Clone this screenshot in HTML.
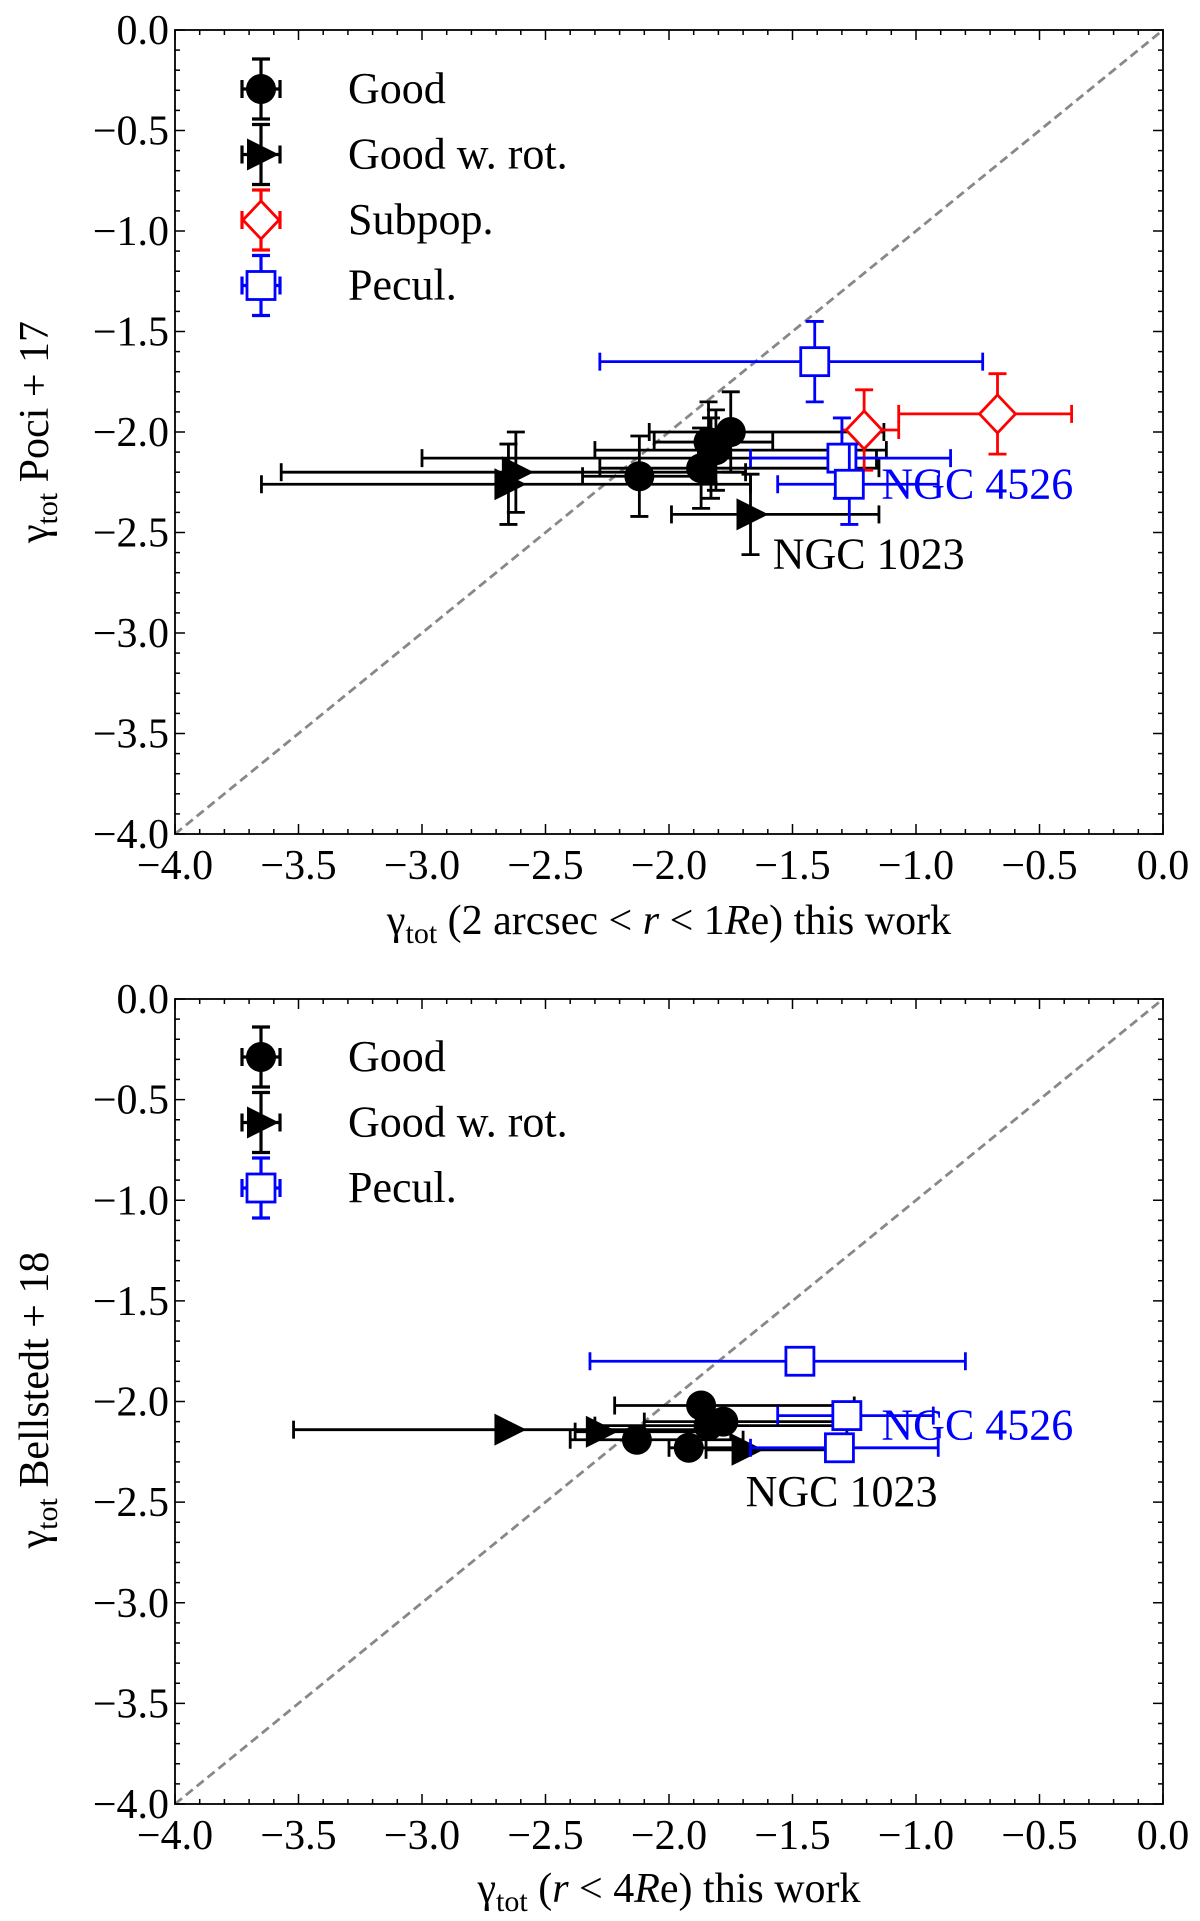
<!DOCTYPE html>
<html><head><meta charset="utf-8"><style>
body{margin:0;background:#fff}
svg{display:block;font-family:"Liberation Serif",serif}
</style></head><body>
<svg id="fig" width="1200" height="1921" viewBox="0 0 1200 1921" xmlns="http://www.w3.org/2000/svg"></svg>
<script>
// Panel 1 data: Poci+17 vs this work
const p1GoodX=[-2.12,-1.75,-1.87,-1.81,-1.84];
const p1GoodY=[-2.22,-2.00,-2.18,-2.09,-2.05];
const p1GoodXlo=[-2.35,-2.08,-2.28,-2.30,-2.06];
const p1GoodXhi=[-1.82,-1.13,-1.15,-1.12,-1.58];
const p1RotX=[-2.62,-2.65,-1.67,-1.83];
const p1RotY=[-2.20,-2.26,-2.41,-2.13];
const p1RotXlo=[-3.57,-3.65,-1.99,-3.00];
const p1RotXhi=[-1.69,-1.67,-1.15,-1.16];
const p1SubX=[-1.21,-0.67];
const p1SubY=[-1.99,-1.91];
const p1SubXlo=[-1.30,-1.07];
const p1SubXhi=[-1.07,-0.37];
const p1PecX=[-1.41,-1.30,-1.27];
const p1PecY=[-1.65,-2.13,-2.26];
const p1PecXlo=[-2.28,-1.67,-1.56];
const p1PecXhi=[-0.73,-0.86,-0.91];
// Panel 2 data: Bellstedt+18 vs this work
const p2GoodX=[-1.87,-1.92,-2.13,-1.78,-1.84];
const p2GoodY=[-2.02,-2.23,-2.19,-2.10,-2.12];
const p2GoodXlo=[-2.22,-2.00,-2.40,-2.10,-2.30];
const p2GoodXhi=[-1.25,-1.70,-1.70,-1.26,-1.28];
const p2RotX=[-2.65,-2.28,-1.69];
const p2RotY=[-2.14,-2.15,-2.24];
const p2RotXlo=[-3.52,-2.38,-1.85];
const p2RotXhi=[-1.75,-1.85,-1.30];
const p2PecX=[-1.47,-1.28,-1.31];
const p2PecY=[-1.80,-2.07,-2.23];
const p2PecXlo=[-2.32,-1.56,-1.67];
const p2PecXhi=[-0.80,-0.93,-0.91];
const tickVals=[-4.0,-3.5,-3.0,-2.5,-2.0,-1.5,-1.0,-0.5,0.0];
const tickLabels=["\u22124.0","\u22123.5","\u22123.0","\u22122.5","\u22122.0","\u22121.5","\u22121.0","\u22120.5","0.0"];

const NS="http://www.w3.org/2000/svg";
const svg=document.getElementById('fig');
function mk(tag,attrs,parent){const e=document.createElementNS(NS,tag);for(const k in attrs)e.setAttribute(k,attrs[k]);(parent||svg).appendChild(e);return e;}

function panel(top,bottom,name){
  const X0=175,X1=1163;
  const sx=v=>X0+(v+4)/4*(X1-X0);
  const sy=v=>top+(-v)/4*(bottom-top);
  const g=mk('g',{});
  
  
  const d=mk('line',{x1:sx(-4),y1:sy(-4),x2:sx(0),y2:sy(0),stroke:'#888',"stroke-width":2.8,"stroke-dasharray":"9,5"},g);
  
  
  const f=mk('rect',{x:X0,y:top,width:X1-X0,height:bottom-top,fill:'none',stroke:'#000',"stroke-width":1.8},g);
  
  
  for(let i=0;i<=40;i++){
    const v=-4+i*0.1;const maj=i%5===0;const L=maj?10:5;
    mk('line',{x1:sx(v),y1:bottom,x2:sx(v),y2:bottom-L,stroke:'#000',"stroke-width":1.5},g);
    mk('line',{x1:sx(v),y1:top,x2:sx(v),y2:top+L,stroke:'#000',"stroke-width":1.5},g);
    mk('line',{x1:X0,y1:sy(v),x2:X0+L,y2:sy(v),stroke:'#000',"stroke-width":1.5},g);
    mk('line',{x1:X1,y1:sy(v),x2:X1-L,y2:sy(v),stroke:'#000',"stroke-width":1.5},g);
  }
  tickVals.forEach((v,i)=>{
    const t=mk('text',{x:sx(v),y:bottom+45,"text-anchor":"middle","font-size":42},g);
    t.textContent=tickLabels[i];
    
    
    const u=mk('text',{x:X0-6,y:sy(v)+14,"text-anchor":"end","font-size":42},g);
    u.textContent=tickLabels[i];
    
    
  });
  return {g,sx,sy};
}

function errbar(g,x,y,xlo,xhi,ylo,yhi,col,w){
  w=w||2.8;
  mk('line',{x1:x,y1:y,x2:xlo,y2:y,stroke:col,"stroke-width":w},g);
  mk('line',{x1:x,y1:y,x2:xhi,y2:y,stroke:col,"stroke-width":w},g);
  mk('line',{x1:xlo,y1:y-9,x2:xlo,y2:y+9,stroke:col,"stroke-width":w},g);
  mk('line',{x1:xhi,y1:y-9,x2:xhi,y2:y+9,stroke:col,"stroke-width":w},g);
  if(ylo!==null){
    mk('line',{x1:x,y1:ylo,x2:x,y2:yhi,stroke:col,"stroke-width":w},g);
    mk('line',{x1:x-9,y1:ylo,x2:x+9,y2:ylo,stroke:col,"stroke-width":w},g);
    mk('line',{x1:x-9,y1:yhi,x2:x+9,y2:yhi,stroke:col,"stroke-width":w},g);
  }
}
function marker(g,type,x,y){
  let e;
  if(type==='circle')e=mk('circle',{cx:x,cy:y,r:15,fill:'#000'},g);
  else if(type==='tri')e=mk('polygon',{points:`${x-14},${y-16} ${x+18},${y} ${x-14},${y+16}`,fill:'#000'},g);
  else if(type==='diamond')e=mk('polygon',{points:`${x},${y-19} ${x+18},${y} ${x},${y+19} ${x-18},${y}`,fill:'#fff',stroke:'red',"stroke-width":2.8},g);
  else e=mk('rect',{x:x-14,y:y-14,width:28,height:28,fill:'#fff',stroke:'blue',"stroke-width":2.8},g);
  return e;
}
function series(P,type,col,X,Y,Xlo,Xhi,yerr,name){
  X.forEach((v,i)=>{
    const px=P.sx(v),py=P.sy(Y[i]);
    errbar(P.g,px,py,P.sx(Xlo[i]),P.sx(Xhi[i]),yerr?P.sy(Y[i]+yerr):null,yerr?P.sy(Y[i]-yerr):null,col);
    const m=marker(P.g,type,px,py);
    
    
  });
}
function legend(g,items,y0){
  items.forEach((it,i)=>{
    const y=y0+i*65.5;
    errbar(g,261,y,242,280,y-30,y+30,it[2],3.2);
    marker(g,it[0],261,y);
    const t=mk('text',{x:348,y:y+14,"font-size":44,fill:'#000'},g);
    t.textContent=it[1];
    
    
  });
}
function gammaText(x,y,rot,parts,name){
  const t=mk('text',{x:x,y:y,"font-size":42,"text-anchor":"middle",transform:rot?`rotate(-90 ${x} ${y})`:''});
  
  
  const a=mk('tspan',{},t);a.textContent='γ';
  const b=mk('tspan',{"font-size":30,dy:9},t);b.textContent='tot';
  let first=true;
  parts.forEach(p=>{
    const at={};
    if(first){at.dy=-9;first=false;}
    if(p[1])at['font-style']='italic';
    const c=mk('tspan',at,t);c.textContent=p[0];
  });
}

const P1=panel(30,834,'top-panel');
series(P1,'circle','#000',p1GoodX,p1GoodY,p1GoodXlo,p1GoodXhi,0.2,'good-point');
series(P1,'tri','#000',p1RotX,p1RotY,p1RotXlo,p1RotXhi,0.2,'good-rot-point');
series(P1,'diamond','red',p1SubX,p1SubY,p1SubXlo,p1SubXhi,0.2,'subpop-point');
series(P1,'square','blue',p1PecX,p1PecY,p1PecXlo,p1PecXhi,0.2,'pecul-point');
let l=mk('text',{x:P1.sx(-1.14),y:P1.sy(-2.33),"font-size":44,fill:'blue'},P1.g);l.textContent='NGC 4526';


l=mk('text',{x:P1.sx(-1.58),y:P1.sy(-2.68),"font-size":44,fill:'#000'},P1.g);l.textContent='NGC 1023';


legend(P1.g,[['circle','Good','#000'],['tri','Good w. rot.','#000'],['diamond','Subpop.','red'],['square','Pecul.','blue']],89);
gammaText(669,934,false,[[' (2 arcsec < ',0],['r',1],[' < 1',0],['R',1],['e) this work',0]],'x-axis-title');
gammaText(48,432,true,[['  Poci + 17',0]],'y-axis-title');

const P2=panel(999,1804,'bottom-panel');
series(P2,'circle','#000',p2GoodX,p2GoodY,p2GoodXlo,p2GoodXhi,0,'good-point');
series(P2,'tri','#000',p2RotX,p2RotY,p2RotXlo,p2RotXhi,0,'good-rot-point');
series(P2,'square','blue',p2PecX,p2PecY,p2PecXlo,p2PecXhi,0,'pecul-point');
l=mk('text',{x:P2.sx(-1.14),y:P2.sy(-2.19),"font-size":44,fill:'blue'},P2.g);l.textContent='NGC 4526';


l=mk('text',{x:P2.sx(-1.69),y:P2.sy(-2.52),"font-size":44,fill:'#000'},P2.g);l.textContent='NGC 1023';


legend(P2.g,[['circle','Good','#000'],['tri','Good w. rot.','#000'],['square','Pecul.','blue']],1057);
gammaText(669,1902,false,[[' (',0],['r',1],[' < 4',0],['R',1],['e) this work',0]],'x-axis-title');
gammaText(48,1400,true,[['  Bellstedt + 18',0]],'y-axis-title');
</script>
</body></html>
